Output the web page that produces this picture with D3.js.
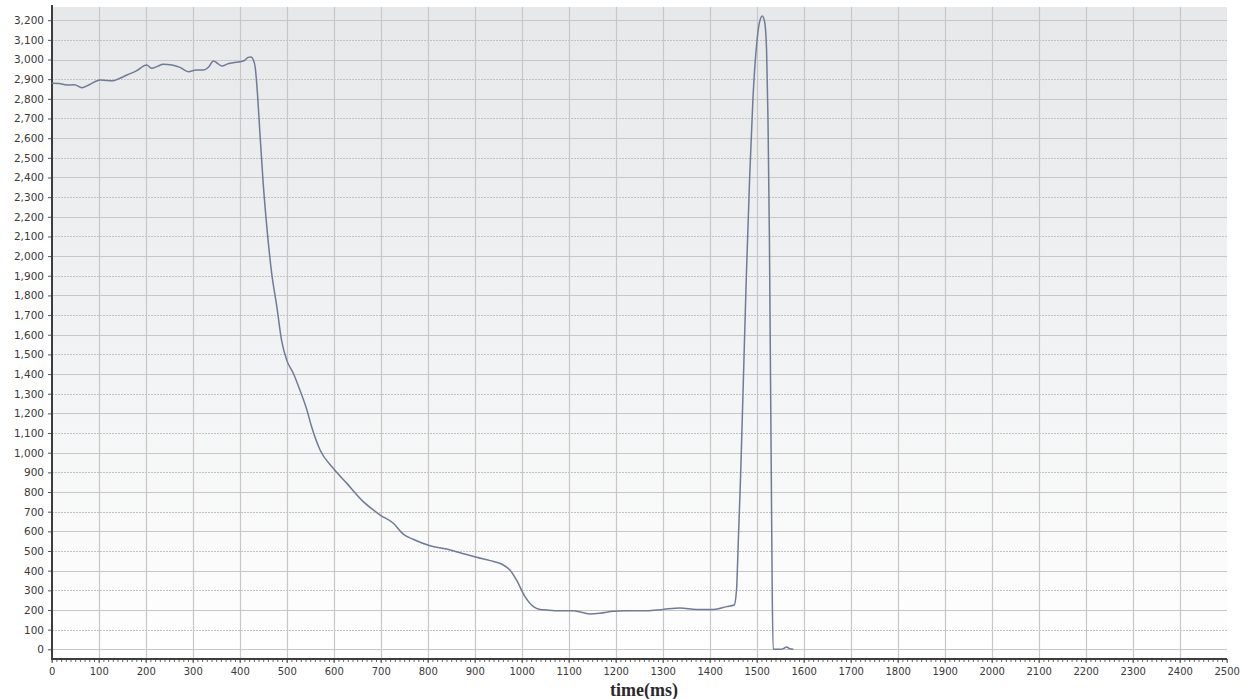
<!DOCTYPE html>
<html>
<head>
<meta charset="utf-8">
<script src="https://cdn.jsdelivr.net/npm/d3@7/dist/d3.min.js"></script>
<style>
  html, body { margin: 0; padding: 0; background: #ffffff; }
  svg { display: block; }
</style>
</head>
<body>
<svg id="chart" width="1244" height="699"></svg>
<script>
// Sampled trace: time in ms and measured value
const timeMs = [0, 16, 32, 48, 64, 80, 103, 118, 131, 145, 160, 180, 202, 213, 225, 237, 256, 273, 291, 308, 323, 334, 344, 353, 362, 375, 386, 401, 410, 418, 424, 429, 433, 438, 443, 450, 459, 468, 479, 489, 500, 514, 528, 543, 553, 571, 599, 628, 663, 699, 727, 748, 769, 805, 840, 869, 904, 933, 957, 975, 989, 1007, 1025, 1039, 1053, 1081, 1110, 1145, 1166, 1195, 1223, 1266, 1301, 1337, 1372, 1408, 1436, 1452, 1457, 1461, 1466, 1472, 1478, 1485, 1492, 1500, 1506, 1512, 1517, 1521, 1524, 1527, 1529, 1531, 1533, 1535, 1550, 1558, 1564, 1570, 1578];
const values = [2879, 2878, 2870, 2872, 2857, 2872, 2896, 2893, 2892, 2905, 2921, 2942, 2972, 2955, 2965, 2976, 2972, 2960, 2938, 2947, 2947, 2962, 2993, 2980, 2967, 2978, 2984, 2989, 2995, 3011, 3013, 2998, 2960, 2820, 2625, 2370, 2116, 1913, 1743, 1573, 1471, 1404, 1319, 1217, 1132, 1014, 921, 844, 751, 683, 641, 586, 560, 527, 510, 491, 468, 451, 434, 403, 352, 268, 217, 203, 200, 196, 196, 180, 183, 193, 196, 196, 203, 210, 203, 203, 217, 225, 300, 560, 900, 1400, 1900, 2400, 2800, 3080, 3190, 3222, 3190, 3050, 2700, 2100, 1500, 900, 300, 0, 0, 5, 12, 3, 0];

// Axis ticks
const xTicks = d3.range(0, 2501, 100);
const yTicks = d3.range(0, 3201, 100);

const svg = d3.select("#chart");

const plot = { left: 52, right: 1227, top: 7, bottom: 659 };

const x = d3.scaleLinear().domain([0, 2500]).range([51.7, 1226.7]);
const y = d3.scaleLinear().domain([0, 3200]).range([649.3, 20.2]);

// Plot background: soft grey fading to white
const defs = svg.append("defs");
const grad = defs.append("linearGradient")
  .attr("id", "bg").attr("x1", 0).attr("y1", 0).attr("x2", 0).attr("y2", 1);
grad.append("stop").attr("offset", "0%").attr("stop-color", "#e7e8ea");
grad.append("stop").attr("offset", "55%").attr("stop-color", "#f2f3f4");
grad.append("stop").attr("offset", "100%").attr("stop-color", "#ffffff");

svg.append("rect")
  .attr("x", plot.left).attr("y", plot.top)
  .attr("width", plot.right - plot.left).attr("height", plot.bottom - plot.top)
  .attr("fill", "url(#bg)");

// Horizontal grid: even hundreds solid, odd hundreds dotted
svg.append("g").selectAll("line")
  .data(yTicks)
  .join("line")
  .attr("x1", plot.left).attr("x2", plot.right)
  .attr("y1", d => Math.round(y(d)) + 0.5).attr("y2", d => Math.round(y(d)) + 0.5)
  .attr("stroke", d => (d / 100) % 2 === 0 ? "#cbc6c6" : "#c6c1c1")
  .attr("stroke-width", 1.2)
  .attr("stroke-dasharray", d => (d / 100) % 2 === 0 ? null : "2,1");

// Vertical grid
svg.append("g").selectAll("line")
  .data(xTicks.filter(d => d > 0 && d < 2500))
  .join("line")
  .attr("x1", d => Math.round(x(d)) + 0.5).attr("x2", d => Math.round(x(d)) + 0.5)
  .attr("y1", plot.top).attr("y2", plot.bottom)
  .attr("stroke", "#cbc6c6")
  .attr("stroke-width", 1.2);

// Y axis
const yAxis = d3.axisLeft(y)
  .tickValues(yTicks)
  .tickSize(4)
  .tickPadding(4)
  .tickFormat(d3.format(","));
const gy = svg.append("g").attr("transform", `translate(${plot.left},0)`).call(yAxis);
gy.select(".domain").remove();
gy.selectAll(".tick line").attr("stroke", "#555");
gy.selectAll(".tick text")
  .attr("font-family", "DejaVu Sans, Verdana, sans-serif")
  .attr("font-size", 10.5)
  .attr("fill", "#3a3a3a");

// X axis: minor ticks every 10 ms plus labelled hundreds
const gxMinor = svg.append("g").attr("transform", `translate(0,${plot.bottom})`)
  .call(d3.axisBottom(x).tickValues(d3.range(0, 2501, 10)).tickSize(3).tickFormat(""));
gxMinor.select(".domain").remove();
gxMinor.selectAll(".tick line").attr("stroke", "#666").attr("stroke-width", 1);

const gx = svg.append("g").attr("transform", `translate(0,${plot.bottom})`)
  .call(d3.axisBottom(x).tickValues(xTicks).tickSize(4).tickPadding(5).tickFormat(d3.format("d")));
gx.select(".domain").remove();
gx.selectAll(".tick line").attr("stroke", "#555");
gx.selectAll(".tick text")
  .attr("font-family", "DejaVu Sans, Verdana, sans-serif")
  .attr("font-size", 10)
  .attr("fill", "#3a3a3a");

// Axis lines
svg.append("line")
  .attr("x1", plot.left).attr("x2", plot.left)
  .attr("y1", plot.top - 2).attr("y2", plot.bottom + 1)
  .attr("stroke", "#3d3d3d").attr("stroke-width", 2);
svg.append("line")
  .attr("x1", plot.left - 1).attr("x2", plot.right)
  .attr("y1", plot.bottom).attr("y2", plot.bottom)
  .attr("stroke", "#3d3d3d").attr("stroke-width", 2);

// Trace
const line = d3.line()
  .x((d, i) => x(timeMs[i]))
  .y(d => y(d))
  .curve(d3.curveMonotoneX);

svg.append("path")
  .datum(values)
  .attr("d", line)
  .attr("fill", "none")
  .attr("stroke", "#6f7b98")
  .attr("stroke-width", 1.5)
  .attr("stroke-linejoin", "round");

// Axis title
svg.append("text")
  .attr("x", 644).attr("y", 696)
  .attr("text-anchor", "middle")
  .attr("font-family", "Liberation Serif, Times New Roman, serif")
  .attr("font-weight", "bold")
  .attr("font-size", 18)
  .attr("fill", "#2a2a2a")
  .text("time(ms)");
</script>
</body>
</html>
